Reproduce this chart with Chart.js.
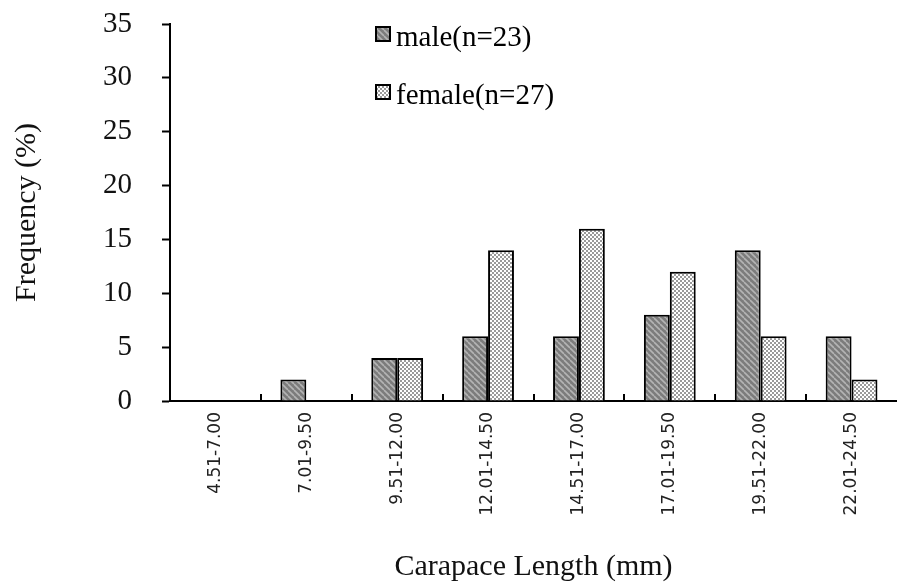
<!DOCTYPE html>
<html><head><meta charset="utf-8">
<script src="https://cdn.jsdelivr.net/npm/chart.js@4.4.1/dist/chart.umd.min.js"></script>
<style>html,body{margin:0;padding:0;background:#fff}</style>
</head><body>
<canvas id="c" width="897" height="586"></canvas>
<script>
const categories = ['4.51-7.00','7.01-9.50','9.51-12.00','12.01-14.50','14.51-17.00','17.01-19.50','19.51-22.00','22.01-24.50'];
const maleValues = [0, 2, 4, 6, 6, 8, 14, 6];
const femaleValues = [0, 0, 4, 14, 16, 12, 6, 2];
const seriesLabels = ['male(n=23)', 'female(n=27)'];
const yTickValues = [0, 5, 10, 15, 20, 25, 30, 35];
const xTitle = 'Carapace Length (mm)';
const yTitle = 'Frequency (%)';

function stripePattern() {
  const c = document.createElement('canvas'); c.width = 6; c.height = 6;
  const g = c.getContext('2d');
  g.fillStyle = '#7c7c7c'; g.fillRect(0, 0, 6, 6);
  g.strokeStyle = '#b4b4b4'; g.lineWidth = 1.6;
  for (let k = -12; k <= 12; k += 6) { g.beginPath(); g.moveTo(k, 0); g.lineTo(k + 6, 6); g.stroke(); }
  return g.createPattern(c, 'repeat');
}
function checkPattern() {
  const c = document.createElement('canvas'); c.width = 4; c.height = 4;
  const g = c.getContext('2d');
  g.fillStyle = '#ffffff'; g.fillRect(0, 0, 4, 4);
  g.fillStyle = '#9a9a9a'; g.fillRect(0, 0, 2, 2); g.fillRect(2, 2, 2, 2);
  return g.createPattern(c, 'repeat');
}
const malePat = stripePattern();
const femalePat = checkPattern();
const serif = "'Liberation Serif', 'Times New Roman', serif";

const extras = {
  id: 'extras',
  afterDraw(chart) {
    const ctx = chart.ctx, x = chart.scales.x, area = chart.chartArea;
    ctx.save();
    ctx.strokeStyle = '#000'; ctx.lineWidth = 2;
    for (let i = 1; i < categories.length; i++) {
      const px = Math.round((x.getPixelForTick(i - 1) + x.getPixelForTick(i)) / 2);
      ctx.beginPath(); ctx.moveTo(px, area.bottom); ctx.lineTo(px, area.bottom - 7); ctx.stroke();
    }
    // legend
    const boxTop = [27, 85], textMid = [38, 96];
    chart.data.datasets.forEach((ds, i) => {
      ctx.fillStyle = ds.backgroundColor; ctx.fillRect(376, boxTop[i], 14, 14);
      ctx.lineWidth = 2; ctx.strokeStyle = '#000'; ctx.strokeRect(376, boxTop[i], 14, 14);
      ctx.fillStyle = '#000'; ctx.font = '29px ' + serif; ctx.textBaseline = 'middle'; ctx.textAlign = 'left';
      ctx.fillText(ds.label, 396, textMid[i]);
    });
    ctx.restore();
  }
};

new Chart(document.getElementById('c'), {
  type: 'bar',
  data: {
    labels: categories,
    datasets: [
      { label: seriesLabels[0], data: maleValues, backgroundColor: malePat, borderColor: '#000', borderWidth: 2 },
      { label: seriesLabels[1], data: femaleValues, backgroundColor: femalePat, borderColor: '#000', borderWidth: 2 }
    ]
  },
  options: {
    responsive: false, animation: false,
    layout: { padding: { top: 24, right: 0, left: 0, bottom: 0 } },
    datasets: { bar: { barPercentage: 1, categoryPercentage: 0.57 } },
    plugins: { legend: { display: false }, tooltip: { enabled: false } },
    scales: {
      x: {
        grid: { display: false, drawTicks: false },
        border: { display: true, color: '#000', width: 2 },
        ticks: { color: '#222', font: { family: "'DejaVu Sans', sans-serif", size: 17 }, minRotation: 90, maxRotation: 90, padding: 11, autoSkip: false },
        title: { display: true, text: xTitle, color: '#111', font: { family: serif, size: 30 }, padding: { top: 0, bottom: 1 } },
        afterFit(s) { s.height = 185; }
      },
      y: {
        min: 0, max: 35,
        afterBuildTicks(s) { s.ticks = yTickValues.map(v => ({ value: v })); },
        grid: { drawOnChartArea: false, drawTicks: true, tickLength: 8, tickColor: '#000', tickWidth: 2 },
        border: { display: true, color: '#000', width: 2 },
        ticks: { color: '#111', font: { family: serif, size: 29 }, padding: 30 },
        title: { display: true, text: yTitle, color: '#111', font: { family: serif, size: 30 }, padding: { top: 9, bottom: 0 } },
        afterFit(s) { s.width = 170; s.paddingTop = 0; s.paddingBottom = 0; }
      }
    }
  },
  plugins: [extras]
});
</script>
</body></html>
